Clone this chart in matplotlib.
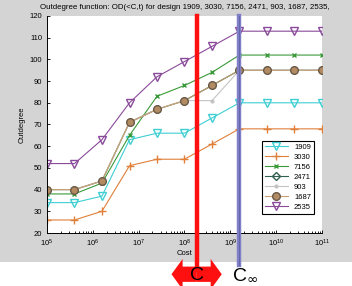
import matplotlib
matplotlib.use('Agg')
from matplotlib import pyplot as plt
from matplotlib.patches import Rectangle

plt.rcParams['font.family'] = ['Liberation Sans', 'DejaVu Sans']

# cost axis (log scale), 11 points
cost = [1e5, 3.98e5, 1.58e6, 6.31e6, 2.51e7, 1e8, 3.98e8, 1.58e9, 6.31e9, 2.51e10, 1e11]

designs = ['1909', '3030', '7156', '2471', '903', '1687', '2535']
od_1909 = [34, 34, 37, 63, 66, 66, 73, 80, 80, 80, 80]
od_3030 = [26, 26, 30, 51, 54, 54, 61, 68, 68, 68, 68]
od_7156 = [38, 38, 43, 65, 83, 88, 94, 102, 102, 102, 102]
od_2471 = [40, 40, 44, 71, 77, 81, 88, 95, 95, 95, 95]
od_903 = [40, 40, 44, 71, 77, 81, 81, 95, 95, 95, 95]
od_1687 = [40, 40, 44, 71, 77, 81, 88, 95, 95, 95, 95]
od_2535 = [52, 52, 63, 80, 92, 99, 106, 113, 113, 113, 113]

c_cost = 1.86e8      # red line "C"
cinf_cost = 1.58e9   # blue line "C infinity"
arrow_ends = [5.2e7, 6.5e8]  # extent of the red double arrow

fig = plt.figure(figsize=(3.52, 2.86), dpi=100, facecolor='white')
# gray matlab-like background for the upper part
fig.patches.append(Rectangle((0, 24 / 286), 1, 1, transform=fig.transFigure,
                             facecolor='#d4d4d4', edgecolor='none', zorder=-10))

ax = fig.add_axes([47 / 352, 1 - 233 / 286, 275 / 352, 217 / 286])
ax.set_facecolor('white')

lw = 0.8
ax.plot(cost, od_1909, color='#3fcfd3', marker='v', mfc='none', ms=5.5, lw=lw, label='1909')
ax.plot(cost, od_3030, color='#e0803a', marker='+', ms=5.5, lw=lw, label='3030')
ax.plot(cost, od_7156, color='#3a9a3a', marker='x', ms=3.5, lw=lw, label='7156')
ax.plot(cost, od_2471, color='#2f6050', marker='D', mfc='none', ms=4.5, lw=lw, label='2471')
ax.plot(cost, od_903, color='#c4c4c4', marker='.', ms=4, lw=lw, label='903')
ax.plot(cost, od_1687, color='#c8a070', marker='o', mfc='#b38b62', mec='#6a5a48',
        ms=5.5, lw=lw, label='1687')
ax.plot(cost, od_2535, color='#8a4a9a', marker='v', mfc='none', ms=5.5, lw=lw, label='2535')

ax.set_xscale('log')
ax.set_xlim(1e5, 1e11)
ax.set_ylim(20, 120)
ax.set_yticks(range(20, 121, 10))
ax.set_xticks([1e5, 1e6, 1e7, 1e8, 1e9, 1e10, 1e11])
ax.tick_params(axis='both', which='both', direction='in', labelsize=5.5, length=2, width=0.6)
ax.tick_params(axis='x', which='minor', length=1.5)
ax.spines['top'].set_visible(False)
ax.spines['right'].set_visible(False)
ax.spines['left'].set_linewidth(0.7)
ax.spines['bottom'].set_linewidth(0.7)

ax.set_title('Outdegree function: OD(<C,t) for design 1909, 3030, 7156, 2471, 903, 1687, 2535,',
             fontsize=5.7, pad=5)
ax.set_xlabel('Cost', fontsize=5.5, labelpad=0.5)
ax.set_ylabel('Outdegree', fontsize=5.5, labelpad=3)

leg = ax.legend(loc='lower right', bbox_to_anchor=(0.985, 0.069), fontsize=5.5,
                handlelength=3.0, labelspacing=0.35, borderpad=0.4,
                fancybox=False, framealpha=1, edgecolor='black')
leg.get_frame().set_linewidth(0.8)

# C and C-infinity lines, running below the axes
ax.axvline(c_cost, ymin=-0.17, ymax=1.0, color='#ff1010', lw=3.2, clip_on=False, zorder=5)
ax.axvline(cinf_cost, ymin=-0.147, ymax=1.0, color='#8080c8', lw=3.2, clip_on=False, zorder=5)
ax.axvline(cinf_cost, ymin=-0.147, ymax=1.0, color='#5a5aa0', lw=0.5, clip_on=False, zorder=5)

# red double arrow around C, built from two filled arrows pointing outwards
for end in arrow_ends:
    ax.annotate('', xy=(end, -0.19), xytext=(c_cost, -0.19),
                xycoords=('data', 'axes fraction'), textcoords=('data', 'axes fraction'),
                arrowprops=dict(arrowstyle='simple,head_width=2.2,head_length=0.8,tail_width=1.1',
                                mutation_scale=10, fc='#ff1010', ec='none', lw=0,
                                shrinkA=0, shrinkB=0),
                annotation_clip=False)
ax.text(c_cost, -0.195, 'C', fontsize=14, ha='center', va='center',
        transform=ax.get_xaxis_transform(), clip_on=False, zorder=6)
ax.annotate(r'C$_{\infty}$', xy=(cinf_cost, -0.195), xycoords=('data', 'axes fraction'),
            xytext=(-5, 0), textcoords='offset points', fontsize=14,
            ha='left', va='center', annotation_clip=False, zorder=6)

fig.savefig('out.png', dpi=100, facecolor=fig.get_facecolor())
